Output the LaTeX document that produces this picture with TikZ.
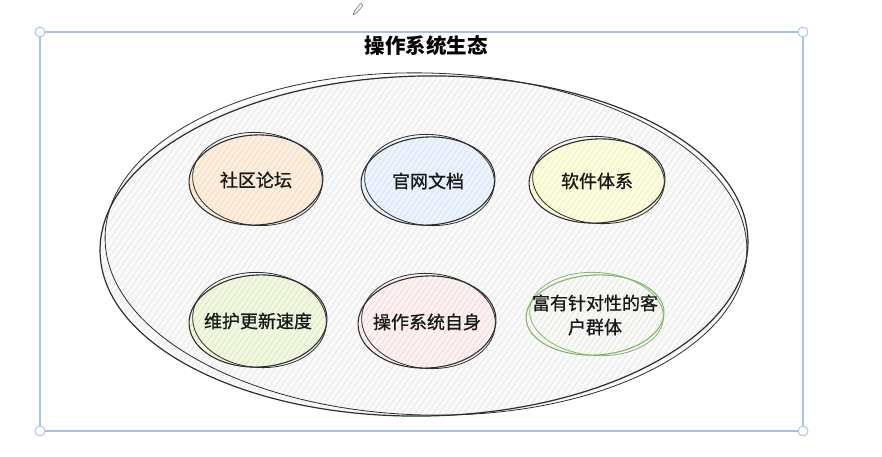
\documentclass[tikz,border=0pt]{standalone}
\usepackage{fontspec}
\setmainfont{Noto Sans CJK SC}
\newfontfamily\medcjk[FakeBold=1.0]{Noto Sans CJK SC}
\usetikzlibrary{shapes.geometric,patterns.meta}
\definecolor{selbl}{HTML}{A9C0E8}
\definecolor{inkc}{HTML}{2E2E2E}
\definecolor{fA}{HTML}{FCEEDF}\definecolor{hA}{HTML}{F5DBBE}
\definecolor{fB}{HTML}{EDF3FC}\definecolor{hB}{HTML}{D5E2F5}
\definecolor{fC}{HTML}{FCFCE0}\definecolor{hC}{HTML}{F1F0B6}
\definecolor{fD}{HTML}{F1F7E2}\definecolor{hD}{HTML}{DBEABB}
\definecolor{fE}{HTML}{FCF1F1}\definecolor{hE}{HTML}{F2D9D9}
\definecolor{fF}{HTML}{F9FAF7}\definecolor{hF}{HTML}{E2E6DF}
\definecolor{sF}{HTML}{86B36E}
\definecolor{fBig}{HTML}{F9F9F9}\definecolor{hBig}{HTML}{E6E6E6}
\tikzset{
  sk/.style={draw=inkc, line width=1.1pt, line cap=round},
  lbl/.style={font=\medcjk\fontsize{18}{24}\selectfont, align=center, text=black!90, inner sep=1pt},
  titlelbl/.style={font=\fontsize{20.5}{24}\selectfont\bfseries, text=black, inner sep=1pt},
  handle/.style={circle, draw=selbl, fill=white, line width=0.9pt, minimum size=10pt, inner sep=0pt},
  selbox/.style={draw=selbl, line width=1.2pt},
}
\newcommand\skbubble[8]{%
  \fill[#6] (#2,#3) ellipse [x radius=#4, y radius=#5];
  \fill[pattern={Lines[angle=55,distance=4.5pt,line width=0.7pt]}, pattern color=#7] (#2,#3) ellipse [x radius=#4, y radius=#5];
  \draw[sk, draw=#8] (#2,#3) ellipse [x radius=#4, y radius=#5, rotate=3];
  \draw[sk, draw=#8, line width=0.8pt] (#2+1.5,#3-1) ellipse [x radius=#4-2, y radius=#5+1.5, rotate=-4];
  \node[lbl] (#1) at (#2,#3) {\strut};
}
\begin{document}
\begin{tikzpicture}[x=1pt,y=-1pt]
\useasboundingbox (0,0) rectangle (882,457);
\fill[white] (0,0) rectangle (882,457);
% pencil icon
\draw[black!55, line width=0.6pt, line join=round] (353,15) -- (354.5,11) -- (360.5,3.5) -- (363,5.2) -- (357,12.6) -- cycle;
% selection box
\draw[selbox] (40,32) rectangle (803,431);
\node[handle] (h1) at (40,32) {};
\node[handle] (h2) at (803,32) {};
\node[handle] (h3) at (40,431) {};
\node[handle] (h4) at (803,431) {};
% title
\node[titlelbl] (title) at (426,46) {操作系统生态};
% big ellipse
\fill[fBig] (424,246) ellipse [x radius=324, y radius=170];
\fill[pattern={Lines[angle=55,distance=5pt,line width=0.6pt]}, pattern color=hBig] (424,246) ellipse [x radius=324, y radius=170];
\draw[sk, line width=1.2pt] (424,246) ellipse [x radius=324, y radius=170, rotate=1];
\draw[sk, line width=0.8pt] (426,244) ellipse [x radius=321, y radius=171, rotate=-1.5];
\node (eco) at (424,246) {};
% bubbles
\skbubble{forum}{256}{180}{67}{45}{fA}{hA}{inkc}
\node[lbl] at (forum) {社区论坛};
\skbubble{docs}{428}{181}{67}{44}{fB}{hB}{inkc}
\node[lbl] at (docs) {官网文档};
\skbubble{soft}{597}{181}{68}{42}{fC}{hC}{inkc}
\node[lbl] at (soft) {软件体系};
\skbubble{maint}{258}{321}{69}{46}{fD}{hD}{inkc}
\node[lbl] at (maint) {维护更新速度};
\skbubble{osself}{427}{322}{69}{46}{fE}{hE}{inkc}
\node[lbl] at (osself) {操作系统自身};
\skbubble{users}{595}{315}{69}{40}{fF}{hF}{sF}
\node[lbl] at (users) {富有针对性的客\\户群体};
\end{tikzpicture}
\end{document}
